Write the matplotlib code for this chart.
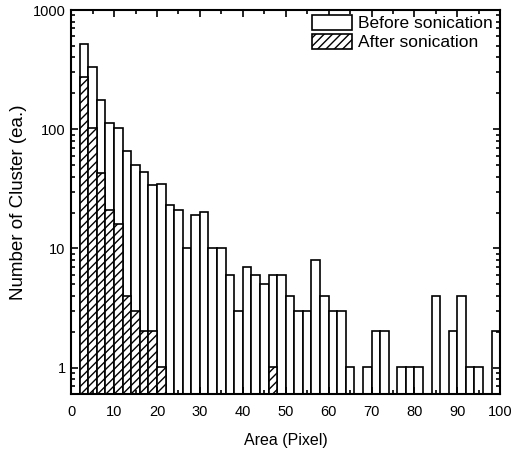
import matplotlib
matplotlib.use("Agg")
import matplotlib.pyplot as plt
import numpy as np
from matplotlib.ticker import LogLocator, MultipleLocator, NullFormatter

plt.rcParams['font.family'] = ['Liberation Sans', 'DejaVu Sans']
plt.rcParams['hatch.linewidth'] = 1.0

# bin left edges (Pixel), bin width 2
bin_left = list(range(2, 100, 2))
before = [518, 334, 175, 112, 102, 65, 50, 44, 34, 35,
          23, 21, 10, 19, 20, 10, 10, 6, 3, 7,
          6, 5, 6, 6, 4, 3, 3, 8, 4, 3,
          3, 1, 0, 1, 2, 2, 0, 1, 1, 1,
          0, 4, 0, 2, 4, 1, 1, 0, 2]
after = [273, 102, 43, 21, 16, 4, 3, 2, 2, 1,
         0, 0, 0, 0, 0, 0, 0, 0, 0, 0,
         0, 0, 1, 0, 0, 0, 0, 0, 0, 0,
         0, 0, 0, 0, 0, 0, 0, 0, 0, 0,
         0, 0, 0, 0, 0, 0, 0, 0, 0]

fig = plt.figure(figsize=(5.12, 4.55), dpi=100)
ax = fig.add_axes([0.139, 0.134, 0.838, 0.844])

b_x = [x for x, v in zip(bin_left, before) if v > 0]
b_v = [v for v in before if v > 0]
a_x = [x for x, v in zip(bin_left, after) if v > 0]
a_v = [v for v in after if v > 0]

ax.bar(b_x, b_v, width=2, align='edge', bottom=0.01, facecolor='white',
       edgecolor='black', linewidth=1.2, label='Before sonication')
ax.bar(a_x, a_v, width=2, align='edge', bottom=0.01, facecolor='white',
       edgecolor='black', linewidth=1.2, hatch='////', label='After sonication')

ax.set_yscale('log')
ax.set_xlim(0, 100)
ax.set_ylim(0.6, 1000)
ax.xaxis.set_major_locator(MultipleLocator(10))
ax.xaxis.set_minor_locator(MultipleLocator(5))
ax.yaxis.set_minor_locator(LogLocator(base=10, subs=np.arange(2, 10), numticks=10))
ax.yaxis.set_minor_formatter(NullFormatter())
ax.set_yticks([1, 10, 100, 1000])
ax.set_yticklabels(['1', '10', '100', '1000'])

ax.tick_params(which='both', direction='in', top=True, right=True, labelsize=10.5, width=1.2)
ax.tick_params(which='major', length=5, pad=4)
ax.tick_params(which='minor', length=3)
ax.tick_params(axis='x', which='major', pad=8)
for s in ax.spines.values():
    s.set_linewidth(1.5)

ax.set_xlabel('Area (Pixel)', fontsize=11.5, labelpad=10)
ax.set_ylabel('Number of Cluster (ea.)', fontsize=13.5, labelpad=4)

ax.legend(loc='upper right', bbox_to_anchor=(0.988, 0.993), frameon=False,
          fontsize=12.5, handlelength=2.3, handleheight=0.9, borderaxespad=0.0,
          labelspacing=0.15, handletextpad=0.35, borderpad=0.15)

fig.savefig('out.png', dpi=100)
